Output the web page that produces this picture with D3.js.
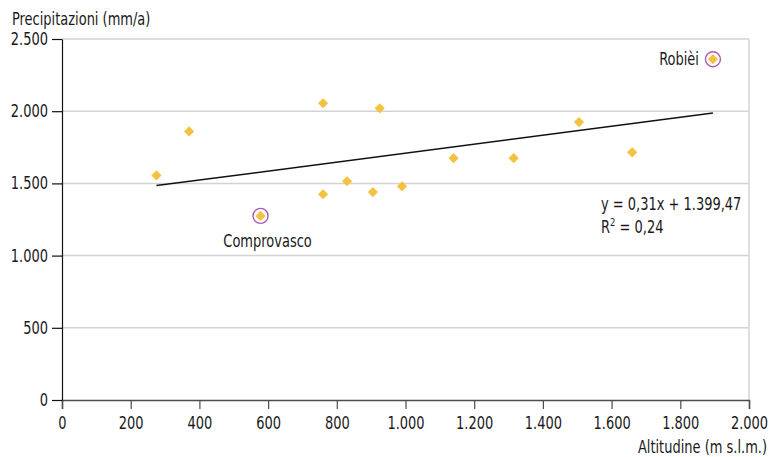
<!DOCTYPE html>
<html>
<head>
<meta charset="utf-8">
<script src="https://cdn.jsdelivr.net/npm/d3@7"></script>
<style>
  html, body { margin: 0; padding: 0; background: #ffffff; }
  svg { display: block; }
  text { font-family: "Liberation Sans Narrow", "DejaVu Sans Condensed", "Arial Narrow", sans-serif; fill: #1a1a1a; }
</style>
</head>
<body>
<svg id="chart" width="781" height="457"></svg>
<script>
// ---- data ----
const stations = ["", "", "Comprovasco", "", "", "", "", "", "", "", "", "", "", "Robièi"];
const altitude = [275, 370, 578, 760, 760, 830, 925, 905, 990, 1140, 1315, 1505, 1660, 1895];
const precipitation = [1555, 1860, 1275, 2055, 1425, 1515, 2020, 1440, 1480, 1675, 1675, 1925, 1715, 2360];
const highlighted = ["Comprovasco", "Robièi"];
const xTicks = [0, 200, 400, 600, 800, 1000, 1200, 1400, 1600, 1800, 2000];
const yTicks = [0, 500, 1000, 1500, 2000, 2500];
const trendSlope = 0.31;
const trendIntercept = 1399.47;
const equationLines = ["y = 0,31x + 1.399,47", "R2 = 0,24"];
const yTitle = "Precipitazioni (mm/a)";
const xTitle = "Altitudine (m s.l.m.)";

// ---- layout ----
const SX = 0.85;   // horizontal condensing of the text face
const FS = 17;
const svg = d3.select("#chart");
const fmt = d3.formatLocale({ decimal: ",", thousands: ".", grouping: [3], currency: ["", ""] }).format(",.0f");

const x = d3.scaleLinear().domain([0, 2000]).range([62, 749]);
const y = d3.scaleLinear().domain([0, 2500]).range([400, 39]);

function label(px, py, txt, anchor) {
  return svg.append("text")
    .attr("transform", `translate(${px},${py}) scale(${SX},1)`)
    .attr("text-anchor", anchor || "start")
    .attr("font-size", FS)
    .text(txt);
}

// gridlines
svg.append("g").selectAll("line").data(yTicks.filter(d => d > 0)).join("line")
  .attr("x1", x(0)).attr("x2", x(2000))
  .attr("y1", d => y(d)).attr("y2", d => y(d))
  .attr("stroke", "#d3d3d3").attr("stroke-width", 1.5);
// right border
svg.append("line")
  .attr("x1", x(2000)).attr("x2", x(2000)).attr("y1", y(2500)).attr("y2", y(0))
  .attr("stroke", "#d3d3d3").attr("stroke-width", 1.5);

// x axis
const xAxis = svg.append("g").attr("transform", `translate(0,${y(0)})`)
  .call(d3.axisBottom(x).tickValues(xTicks).tickFormat(fmt).tickSize(9).tickPadding(8));
xAxis.select(".domain").attr("stroke", "#4d4d4d").attr("stroke-width", 1.5);
xAxis.selectAll(".tick line").attr("stroke", "#4d4d4d").attr("stroke-width", 1.2);
xAxis.selectAll(".tick text").attr("font-size", FS).attr("fill", "#1a1a1a")
  .attr("transform", `scale(${SX},1)`)
  .style("font-family", "'Liberation Sans Narrow', 'DejaVu Sans Condensed', sans-serif");

// y axis
const yAxis = svg.append("g").attr("transform", `translate(${x(0)},0)`)
  .call(d3.axisLeft(y).tickValues(yTicks).tickFormat(fmt).tickSize(10).tickPadding(4).tickSizeOuter(0));
yAxis.select(".domain").attr("stroke", "#111").attr("stroke-width", 1.2);
yAxis.selectAll(".tick line").attr("stroke", "#111").attr("stroke-width", 1.2);
yAxis.selectAll(".tick text").attr("font-size", FS).attr("fill", "#1a1a1a")
  .attr("x", -14 / SX)
  .attr("transform", `scale(${SX},1)`)
  .style("font-family", "'Liberation Sans Narrow', 'DejaVu Sans Condensed', sans-serif");

// titles
label(12, 25, yTitle, "start");
label(767, 453, xTitle, "end");

// trend line
const xr = d3.extent(altitude);
svg.append("line")
  .attr("x1", x(xr[0])).attr("y1", y(trendSlope * xr[0] + trendIntercept))
  .attr("x2", x(xr[1])).attr("y2", y(trendSlope * xr[1] + trendIntercept))
  .attr("stroke", "#111").attr("stroke-width", 1.5);

// points
const pts = altitude.map((a, i) => ({ a, p: precipitation[i], name: stations[i] }));
const sq = d3.symbol().type(d3.symbolSquare).size(52);
svg.append("g").selectAll("path").data(pts).join("path")
  .attr("d", sq)
  .attr("transform", d => `translate(${x(d.a)},${y(d.p)}) rotate(45)`)
  .attr("fill", "#f4c243");

// highlight circles
const hl = pts.filter(d => highlighted.includes(d.name));
svg.append("g").selectAll("circle").data(hl).join("circle")
  .attr("cx", d => x(d.a)).attr("cy", d => y(d.p)).attr("r", 7.5)
  .attr("fill", "none").attr("stroke", "#a95bb0").attr("stroke-width", 1.4);

// labels
hl.forEach(d => {
  if (d.name === "Comprovasco") {
    label(x(d.a) + 7, y(d.p) + 31, d.name, "middle");
  } else {
    label(x(d.a) - 14, y(d.p) + 6, d.name, "end");
  }
});

// equation
label(601, 210, equationLines[0], "start");
const r2 = label(601, 233, "", "start");
r2.append("tspan").text("R");
r2.append("tspan").attr("font-size", 11).attr("dy", -7).text("2");
r2.append("tspan").attr("dy", 7).text(" = 0,24");
</script>
</body>
</html>
